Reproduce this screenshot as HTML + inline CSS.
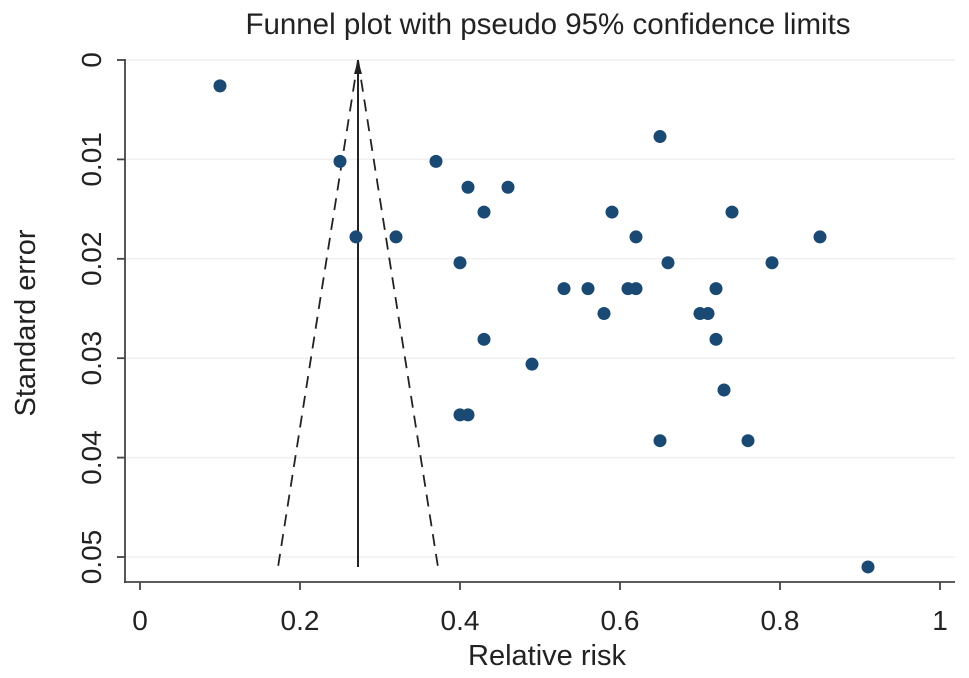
<!DOCTYPE html>
<html><head><meta charset="utf-8"><style>
html,body{margin:0;padding:0;background:#fff;}
svg{display:block;font-family:"Liberation Sans",sans-serif;}
</style></head><body>
<svg id="chart" width="969" height="678">
<text x="548" y="34" text-anchor="middle" font-size="29.5" fill="#222">Funnel plot with pseudo 95% confidence limits</text>
<g id="grid"></g><g id="axes"></g><g id="funnel"></g><g id="points"></g>
<text x="547" y="665" text-anchor="middle" font-size="29" fill="#222">Relative risk</text>
<text transform="translate(35,323) rotate(-90)" text-anchor="middle" font-size="29" fill="#222">Standard error</text>
</svg>
<script>
const xTicks=[0,0.2,0.4,0.6,0.8,1];
const xTickLabels=["0","0.2","0.4","0.6","0.8","1"];
const yTicks=[0,0.01,0.02,0.03,0.04,0.05];
const yTickLabels=["0","0.01","0.02","0.03","0.04","0.05"];
const rr=[0.10,0.25,0.37,0.65,0.41,0.46,0.43,0.59,0.74,0.27,0.32,0.62,0.85,0.40,0.66,0.79,0.53,0.56,0.61,0.62,0.72,0.58,0.70,0.71,0.43,0.72,0.49,0.73,0.40,0.41,0.65,0.76,0.91];
const se=[0.0026,0.0102,0.0102,0.0077,0.0128,0.0128,0.0153,0.0153,0.0153,0.0178,0.0178,0.0178,0.0178,0.0204,0.0204,0.0204,0.0230,0.0230,0.0230,0.0230,0.0230,0.0255,0.0255,0.0255,0.0281,0.0281,0.0306,0.0332,0.0357,0.0357,0.0383,0.0383,0.0510];
const pooled=[0.2725];
const seMax=[0.0510];
const NS="http://www.w3.org/2000/svg";
const X=v=>140+v*800, Y=v=>60+v*9940;
function mk(t,a,p){const e=document.createElementNS(NS,t);for(const k in a)e.setAttribute(k,a[k]);p.appendChild(e);return e;}
const grid=document.getElementById('grid'),axes=document.getElementById('axes'),fun=document.getElementById('funnel'),pts=document.getElementById('points');
yTicks.forEach((v,i)=>{
 const g=mk('line',{x1:126,x2:955,y1:Y(v),y2:Y(v),stroke:'#efefef','stroke-width':1.5},grid);
 
 
 mk('line',{x1:117,x2:125,y1:Y(v),y2:Y(v),stroke:'#444','stroke-width':1.8},axes);
 const t=mk('text',{transform:`translate(101,${Y(v)}) rotate(-90)`,'text-anchor':'middle','font-size':28,fill:'#222'},axes);
 t.textContent=yTickLabels[i];
 
 
});
xTicks.forEach((v,i)=>{
 mk('line',{x1:X(v),x2:X(v),y1:582,y2:590,stroke:'#444','stroke-width':1.8},axes);
 const t=mk('text',{x:X(v),y:630,'text-anchor':'middle','font-size':28,fill:'#222'},axes);
 t.textContent=xTickLabels[i];
 
 
});
mk('line',{x1:125,x2:125,y1:Y(0)-1,y2:583,stroke:'#444','stroke-width':1.8},axes);
mk('line',{x1:124,x2:955,y1:582,y2:582,stroke:'#444','stroke-width':1.8},axes);
const p=pooled[0],sm=seMax[0];
const l1=mk('line',{x1:X(p),y1:Y(0),x2:X(p-1.96*sm),y2:Y(sm),stroke:'#222','stroke-width':1.8,'stroke-dasharray':'12,8'},fun);


const l2=mk('line',{x1:X(p),y1:Y(0),x2:X(p+1.96*sm),y2:Y(sm),stroke:'#222','stroke-width':1.8,'stroke-dasharray':'12,8'},fun);


const pl=mk('line',{x1:X(p),y1:Y(sm),x2:X(p),y2:Y(0)+6,stroke:'#222','stroke-width':2},fun);


mk('polygon',{points:`${X(p)},${Y(0)} ${X(p)-4},${Y(0)+14} ${X(p)+4},${Y(0)+14}`,fill:'#222'},fun);
rr.forEach((v,i)=>{
 const c=mk('circle',{cx:X(v),cy:Y(se[i]),r:6.5,fill:'#1a4a73'},pts);
 
 
});
</script>
</body></html>
